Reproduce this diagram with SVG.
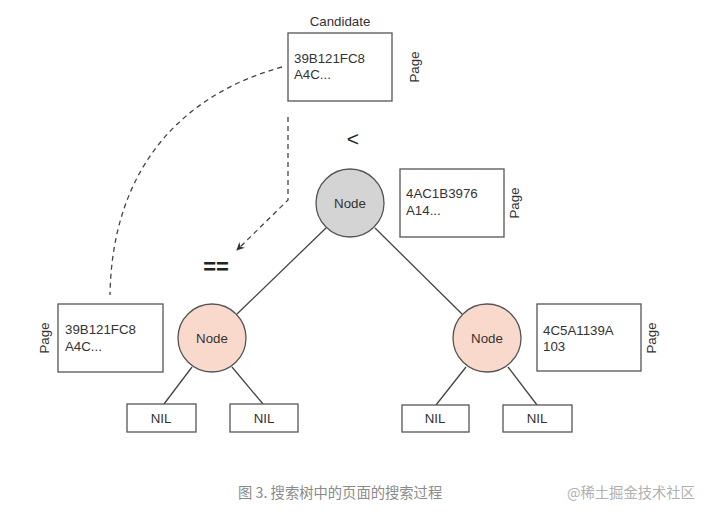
<svg xmlns="http://www.w3.org/2000/svg" width="718" height="516" viewBox="0 0 718 516">
<defs>
<style>
.box{fill:#fff;stroke:#555;stroke-width:1.3}
.nil{fill:#fff;stroke:#555;stroke-width:1.3}
.t{font-family:"Liberation Sans",Arial,sans-serif;font-size:13.3px;fill:#333}
.c{text-anchor:middle}
.edge{stroke:#444;stroke-width:1.3;fill:none}
.dash{stroke:#444;stroke-width:1.3;fill:none;stroke-dasharray:5,4}
.node-root{fill:#d4d4d4;stroke:#555;stroke-width:1.3}
.node-child{fill:#f9d9cb;stroke:#555;stroke-width:1.3}
.cap{font-family:"Noto Sans CJK SC","Liberation Sans",sans-serif;font-size:14.3px}
</style>
<marker id="arr" viewBox="0 0 10 10" refX="9" refY="5" markerWidth="8" markerHeight="8" orient="auto" markerUnits="userSpaceOnUse">
<path d="M0,0 L10,5 L0,10 L3,5 z" fill="#333"/>
</marker>
</defs>
<rect width="718" height="516" fill="#fff"/>

<g id="connectors">
<path class="dash" d="M282,67 C180,95 112,170 110,295"/>
<path class="dash" d="M288,117 L288,200 L237,250" marker-end="url(#arr)"/>
<line class="edge" x1="326" y1="228" x2="237" y2="314"/>
<line class="edge" x1="375" y1="228" x2="462" y2="314"/>
<line class="edge" x1="192" y1="367" x2="164" y2="404"/>
<line class="edge" x1="232" y1="367" x2="263" y2="404"/>
<line class="edge" x1="466" y1="367" x2="436" y2="405"/>
<line class="edge" x1="508" y1="367" x2="537" y2="405"/>
</g>

<g id="candidate">
<text class="t c" x="340" y="26">Candidate</text>
<rect class="box" x="288" y="33" width="104" height="68"/>
<text class="t" x="294" y="63">39B121FC8</text>
<text class="t" x="294" y="79">A4C...</text>
<text class="t c" transform="translate(419,67) rotate(-90)">Page</text>
</g>

<g id="less-than"><text x="353" y="146" font-family="Liberation Sans,Arial,sans-serif" font-size="21" fill="#222" text-anchor="middle">&lt;</text></g>
<g id="equals"><text x="216" y="274" font-family="Liberation Sans,Arial,sans-serif" font-size="22" font-weight="bold" fill="#222" text-anchor="middle">==</text></g>

<g id="root-node">
<circle class="node-root" cx="350" cy="203" r="34"/>
<text class="t c" x="350" y="208">Node</text>
</g>
<g id="root-page">
<rect class="box" x="400" y="169" width="104" height="68"/>
<text class="t" x="406" y="198">4AC1B3976</text>
<text class="t" x="406" y="215">A14...</text>
<text class="t c" transform="translate(519,203) rotate(-90)">Page</text>
</g>

<g id="left-node">
<circle class="node-child" cx="212" cy="338" r="34"/>
<text class="t c" x="212" y="343">Node</text>
</g>
<g id="left-page">
<rect class="box" x="58" y="304" width="105" height="68"/>
<text class="t" x="65" y="334">39B121FC8</text>
<text class="t" x="65" y="351">A4C...</text>
<text class="t c" transform="translate(49,338) rotate(-90)">Page</text>
</g>

<g id="right-node">
<circle class="node-child" cx="487" cy="338" r="34"/>
<text class="t c" x="487" y="343">Node</text>
</g>
<g id="right-page">
<rect class="box" x="537" y="304" width="104" height="67"/>
<text class="t" x="543" y="335">4C5A1139A</text>
<text class="t" x="543" y="351">103</text>
<text class="t c" transform="translate(656,338) rotate(-90)">Page</text>
</g>

<g id="nil-1"><rect class="nil" x="127" y="404" width="69" height="28"/><text class="t c" x="161" y="423">NIL</text></g>
<g id="nil-2"><rect class="nil" x="230" y="404" width="68" height="28"/><text class="t c" x="264" y="423">NIL</text></g>
<g id="nil-3"><rect class="nil" x="402" y="405" width="67" height="27"/><text class="t c" x="435" y="423">NIL</text></g>
<g id="nil-4"><rect class="nil" x="503" y="405" width="69" height="27"/><text class="t c" x="537" y="423">NIL</text></g>

<g id="caption">
<text class="cap" x="238" y="498" fill="#8a8a8a">图 3. 搜索树中的页面的搜索过程</text>
<text class="cap" x="567" y="498" fill="#b0b0b0">@稀土掘金技术社区</text>
</g>
</svg>
